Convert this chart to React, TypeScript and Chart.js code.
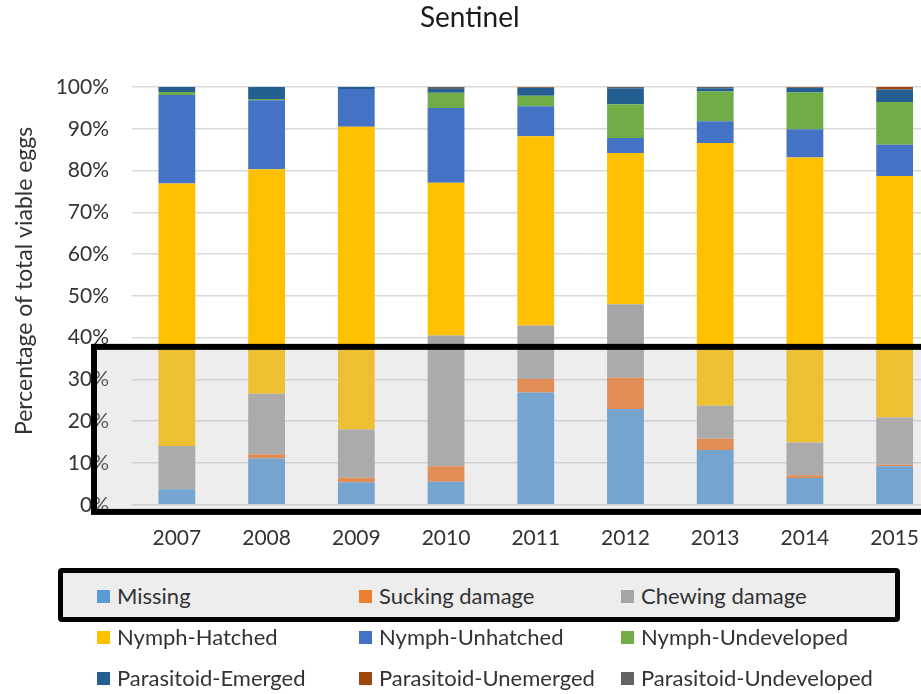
import React, { useEffect, useRef } from "react";
import { Chart, registerables } from "chart.js";

Chart.register(...registerables);

// ---- Data (percent of total viable eggs) ----
const YEARS = ["2007", "2008", "2009", "2010", "2011", "2012", "2013", "2014", "2015"];
const MISSING = [3.7, 11.1, 5.4, 5.5, 26.9, 22.9, 13.1, 6.4, 9.2];
const SUCKING_DAMAGE = [0, 1.0, 1.1, 3.7, 3.2, 7.5, 2.7, 0.7, 0.4];
const CHEWING_DAMAGE = [10.4, 14.5, 11.5, 31.3, 12.8, 17.6, 7.9, 7.8, 11.3];
const NYMPH_HATCHED = [62.8, 53.7, 72.5, 36.6, 45.3, 36.2, 62.9, 68.2, 57.8];
const NYMPH_UNHATCHED = [21.2, 16.5, 9.0, 17.9, 7.2, 3.6, 5.2, 6.8, 7.5];
const NYMPH_UNDEVELOPED = [0.7, 0.3, 0, 3.6, 2.5, 8.1, 7.1, 8.8, 10.2];
const PARASITOID_EMERGED = [1.2, 2.9, 0.5, 0.9, 1.9, 3.8, 0.8, 1.1, 3.0];
const PARASITOID_UNEMERGED = [0, 0, 0, 0, 0.2, 0, 0, 0.2, 0.6];
const PARASITOID_UNDEVELOPED = [0, 0, 0, 0.5, 0, 0.3, 0.3, 0, 0];

const SERIES_NAMES = [
  "Missing",
  "Sucking damage",
  "Chewing damage",
  "Nymph-Hatched",
  "Nymph-Unhatched",
  "Nymph-Undeveloped",
  "Parasitoid-Emerged",
  "Parasitoid-Unemerged",
  "Parasitoid-Undeveloped",
];
const SERIES_VALUES = [
  MISSING,
  SUCKING_DAMAGE,
  CHEWING_DAMAGE,
  NYMPH_HATCHED,
  NYMPH_UNHATCHED,
  NYMPH_UNDEVELOPED,
  PARASITOID_EMERGED,
  PARASITOID_UNEMERGED,
  PARASITOID_UNDEVELOPED,
];
const SERIES_COLORS = [
  "#5B9BD5",
  "#ED7D31",
  "#A5A5A5",
  "#FFC000",
  "#4472C4",
  "#70AD47",
  "#255E91",
  "#9E480E",
  "#636363",
];

const Y_TITLE = "Percentage of total viable eggs";

// highlighted band (value range on the y axis)
const HIGHLIGHT_RANGE = [-1.7, 37.8];

const FONT = "Lato, 'Open Sans', sans-serif";
const TEXT_COLOR = "#333333";

const yTitlePlugin = {
  id: "yTitle",
  afterDraw(chart: any) {
    const { ctx, chartArea } = chart;
    const cy = (chartArea.top + chartArea.bottom) / 2 - 15;
    ctx.save();
    ctx.translate(25, cy);
    ctx.rotate(-Math.PI / 2);
    ctx.fillStyle = TEXT_COLOR;
    ctx.font = "23px " + FONT;
    ctx.textAlign = "center";
    ctx.textBaseline = "middle";
    ctx.fillText(Y_TITLE, 0, 0);
    ctx.restore();
  },
};

const highlightPlugin = {
  id: "highlightBand",
  afterDraw(chart: any) {
    const { ctx, chartArea } = chart;
    const y = chart.scales.y;
    const top = y.getPixelForValue(HIGHLIGHT_RANGE[1]);
    const bottom = y.getPixelForValue(HIGHLIGHT_RANGE[0]);
    const left = chartArea.left - 38;
    const right = chart.width + 20;
    ctx.save();
    ctx.fillStyle = "rgba(189,189,189,0.27)";
    ctx.fillRect(left, top, right - left, bottom - top);
    ctx.lineWidth = 6;
    ctx.strokeStyle = "#000000";
    ctx.strokeRect(left, top, right - left, bottom - top);
    ctx.restore();
  },
};

export default function App() {
  const canvasRef = useRef<HTMLCanvasElement | null>(null);

  useEffect(() => {
    if (!canvasRef.current) return;
    const chart = new Chart(canvasRef.current, {
      type: "bar",
      data: {
        labels: YEARS,
        datasets: SERIES_NAMES.map((name, i) => ({
          label: name,
          data: SERIES_VALUES[i],
          backgroundColor: SERIES_COLORS[i],
          borderWidth: 0,
          categoryPercentage: 1,
          barPercentage: 0.41,
        })),
      },
      options: {
        animation: false,
        responsive: false,
        devicePixelRatio: 1,
        layout: { padding: { left: 0, right: 22.5, top: 0, bottom: 122 } },
        plugins: {
          legend: { display: false },
          tooltip: { enabled: false },
          title: {
            display: true,
            text: "Sentinel",
            color: "#1a1a1a",
            font: { family: FONT, size: 28, weight: "normal" },
            padding: { top: 1.2, bottom: 52.2 },
          },
        },
        scales: {
          x: {
            stacked: true,
            grid: { display: false, drawTicks: false },
            border: { display: false },
            ticks: {
              color: TEXT_COLOR,
              font: { family: FONT, size: 21 },
              padding: 21,
              maxRotation: 0,
            },
          },
          y: {
            stacked: true,
            min: 0,
            max: 100,
            grid: { color: "#D9D9D9", lineWidth: 1.5, drawTicks: false },
            border: { display: false },
            ticks: {
              stepSize: 10,
              color: TEXT_COLOR,
              font: { family: FONT, size: 21 },
              padding: 23,
              callback: (v: any) => v + "%",
            },
            afterFit: (scale: any) => {
              scale.width = 132;
            },
          },
        },
      },
      plugins: [yTitlePlugin, highlightPlugin],
    });
    return () => chart.destroy();
  }, []);

  const cols = [97, 359, 621];
  const rows = [596, 637, 678];

  return (
    <div
      style={{
        position: "fixed",
        left: 0,
        top: 0,
        width: 921,
        height: 694,
        overflow: "hidden",
        background: "#ffffff",
      }}
    >
      <canvas
        ref={canvasRef}
        width={962}
        height={694}
        style={{ position: "absolute", left: 0, top: 0, display: "block" }}
      />
      <div
        style={{
          position: "absolute",
          left: 58,
          top: 568,
          width: 842,
          height: 54,
          boxSizing: "border-box",
          border: "5px solid #000",
          borderRadius: 4,
          background: "#EDEDED",
        }}
      />
      {SERIES_NAMES.map((name, i) => {
        const x = cols[i % 3];
        const y = rows[Math.floor(i / 3)];
        return (
          <div
            key={name}
            style={{
              position: "absolute",
              left: x,
              top: y - 14,
              height: 28,
              display: "flex",
              alignItems: "center",
              fontFamily: FONT,
              fontSize: 22,
              color: TEXT_COLOR,
              whiteSpace: "nowrap",
              lineHeight: "28px",
            }}
          >
            <span
              style={{
                display: "inline-block",
                width: 13,
                height: 13,
                background: SERIES_COLORS[i],
                marginRight: 7,
              }}
            />
            <span>{name}</span>
          </div>
        );
      })}
    </div>
  );
}
